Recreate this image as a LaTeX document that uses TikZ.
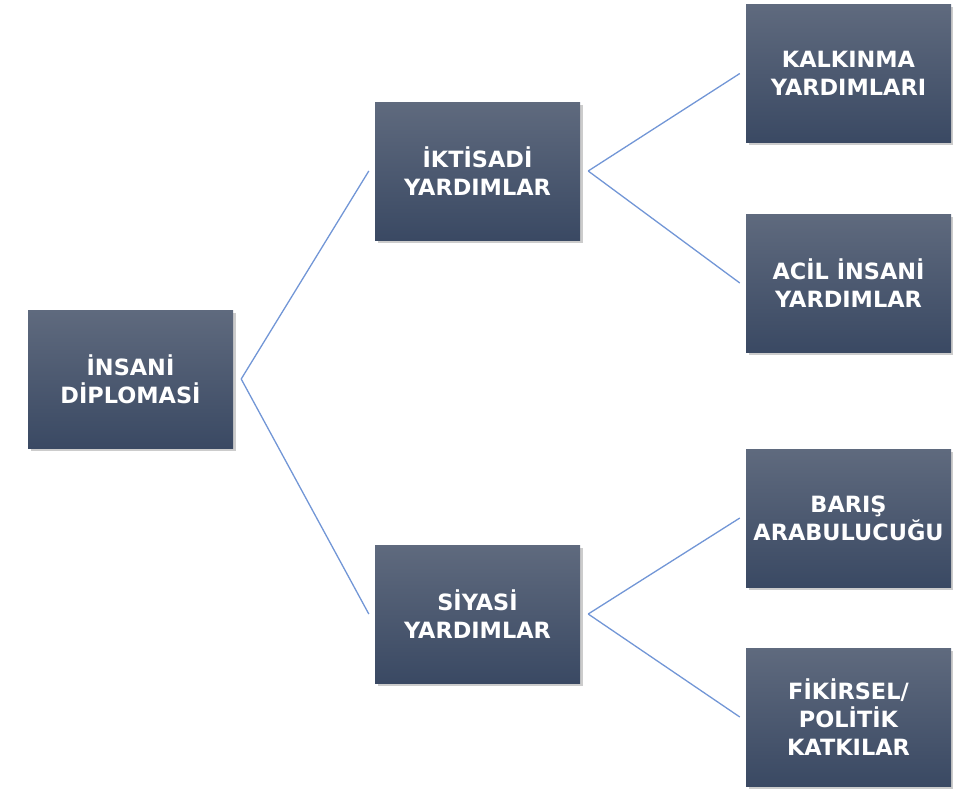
\documentclass[tikz,border=0pt]{standalone}
\usepackage{fontspec}
\setmainfont{DejaVu Sans}
\usetikzlibrary{shadows}
\definecolor{boxtop}{RGB}{95,106,126}
\definecolor{boxbot}{RGB}{58,73,99}
\definecolor{linkblue}{RGB}{114,150,214}

\begin{document}
\begin{tikzpicture}[
       grow'=right,
       edge from parent path=
    {([xshift=8bp]\tikzparentnode.east) -- ([xshift=-6bp]\tikzchildnode.west)},
    edge from parent/.style={draw=linkblue, line width=1.3bp},
    level 1/.style={level distance=347bp, sibling distance=443bp},
    level 2/.style={level distance=371bp},
   every node/.style={minimum width=205bp, minimum height=138bp, inner sep=0pt,
      top color=boxtop, bottom color=boxbot,
      drop shadow={opacity=0.4, shadow xshift=2.5bp, shadow yshift=-2.5bp},
      text=white, align=center, font=\bfseries\fontsize{22.5}{28}\selectfont}]

\useasboundingbox (0,0) rectangle (953bp,-791bp);

\node (insani) at (130.5bp,-379bp) {İNSANİ\\DİPLOMASİ}
    child[yshift=-13.5bp] {node (iktisadi) {İKTİSADİ\\YARDIMLAR}
        child[sibling distance=209.5bp, yshift=-7.25bp] {node (kalkinma) {KALKINMA\\YARDIMLARI}}
        child[sibling distance=209.5bp, yshift=-7.25bp] {node (acil) {ACİL İNSANİ\\YARDIMLAR}}
    }
    child[yshift=-13.5bp] {node (siyasi) {SİYASİ\\YARDIMLAR}
        child[sibling distance=199bp, yshift=-3.5bp] {node (baris) {BARIŞ\\ARABULUCUĞU}}
        child[sibling distance=199bp, yshift=-3.5bp] {node (fikirsel) {FİKİRSEL/\\POLİTİK\\KATKILAR}}
    };

\end{tikzpicture}
\end{document}
